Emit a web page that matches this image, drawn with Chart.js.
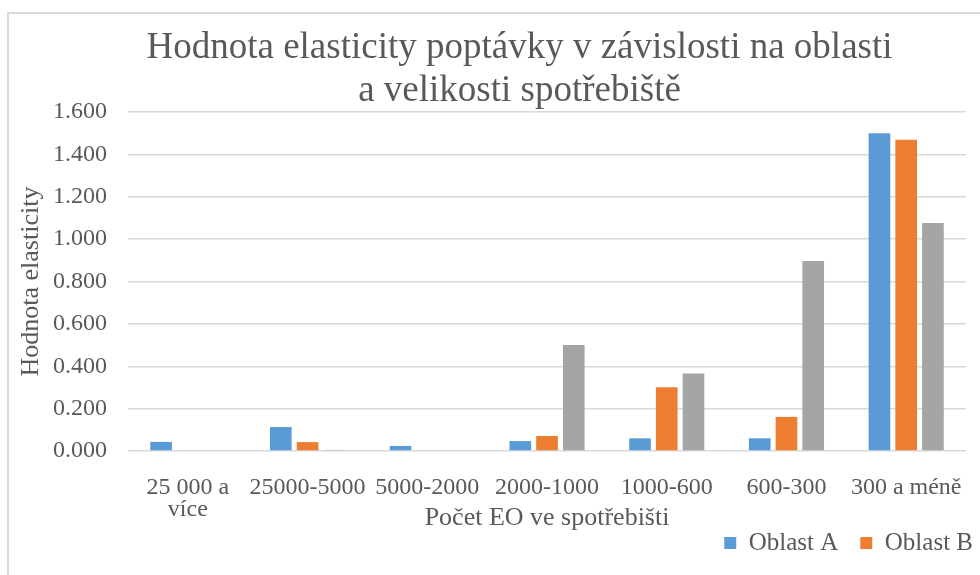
<!DOCTYPE html>
<html>
<head>
<meta charset="utf-8">
<script src="https://cdn.jsdelivr.net/npm/chart.js@4"></script>
<style>
  html, body { margin: 0; padding: 0; background: #fff; overflow: hidden; }
  #frame {
    position: absolute; left: 7px; top: 12px; width: 1200px; height: 800px;
    border-left: 2px solid #d9d9d9; border-top: 2px solid #d9d9d9;
  }
  #wrap { position: absolute; left: 0; top: 0; width: 980px; height: 575px; }
</style>
</head>
<body>
<div id="frame"></div>
<div id="wrap"><canvas id="myChart" width="980" height="575"></canvas></div>
<script>
const categories = [
  ["25 000 a", "více"],
  "25000-5000",
  "5000-2000",
  "2000-1000",
  "1000-600",
  "600-300",
  "300 a méně"
];
const oblastA = [0.043, 0.113, 0.024, 0.047, 0.060, 0.060, 1.500];
const oblastB = [0, 0.042, 0, 0.071, 0.301, 0.161, 1.470];
const oblastC = [0, 0.005, 0, 0.500, 0.366, 0.897, 1.076];

const serif = "'Liberation Serif', 'Times New Roman', serif";
const textColor = "#595959";
const chartCanvas = document.getElementById("myChart");

// Excel puts the title a bit right of centre and the legend tight under the
// axis title, so move those two boxes after chart.js has done its layout
const nudgeBoxes = {
  id: "nudgeBoxes",
  afterLayout(chart) {
    chart.titleBlock.left += 50;
    chart.legend.top -= 9.5;
    chart.legend.bottom -= 9.5;
    chart.legend.left += 22;
    chart.legend.right += 22;
  },
};

const myChart = new Chart(chartCanvas, {
  type: "bar",
  data: {
    labels: categories,
    datasets: [
      { label: "Oblast A", data: oblastA, backgroundColor: "#5b9bd5" },
      { label: "Oblast B", data: oblastB, backgroundColor: "#ed7d31" },
      { label: "Oblast C", data: oblastC, backgroundColor: "#a5a5a5" },
    ],
  },
  plugins: [nudgeBoxes],
  options: {
    responsive: false,
    animation: false,
    datasets: {
      bar: { categoryPercentage: 0.67, barPercentage: 0.81 },
    },
    layout: { padding: { left: 16, right: 7, top: 0, bottom: 0 } },
    plugins: {
      title: {
        display: true,
        text: ["Hodnota elasticity poptávky v závislosti na oblasti", "a velikosti spotřebiště"],
        color: textColor,
        font: { family: serif, size: 37, weight: "normal", lineHeight: 1.15 },
        padding: { top: 27, bottom: 0 },
      },
      legend: {
        position: "bottom",
        align: "end",
        labels: {
          color: textColor,
          font: { family: serif, size: 25 },
          boxWidth: 12,
          boxHeight: 12,
          padding: 22,
          filter: (item) => item.datasetIndex < 2,
        },
      },
      tooltip: { enabled: false },
    },
    scales: {
      x: {
        grid: { display: false },
        border: { display: false },
        afterFit: (scale) => { scale.height = 67; },
        ticks: {
          color: textColor,
          font: { family: serif, size: 24, lineHeight: 0.92 },
          maxRotation: 0,
          autoSkip: false,
          padding: 18,
        },
        title: {
          display: true,
          text: "Počet EO ve spotřebišti",
          color: textColor,
          font: { family: serif, size: 26, lineHeight: 1.2 },
          padding: { top: 0, bottom: -15.6 },
        },
      },
      y: {
        min: 0,
        max: 1.6,
        afterFit: (scale) => { scale.width = 112; },
        grid: { color: "#d9d9d9", lineWidth: 1.5, drawTicks: false },
        border: { display: false },
        ticks: {
          stepSize: 0.2,
          color: textColor,
          font: { family: serif, size: 24 },
          padding: 21,
          callback: (v) => Number(v).toFixed(3),
        },
        title: {
          display: true,
          text: "Hodnota elasticity",
          color: textColor,
          font: { family: serif, size: 26, lineHeight: 1.2 },
          padding: { top: 0, bottom: 0 },
        },
      },
    },
  },
});
</script>
</body>
</html>
